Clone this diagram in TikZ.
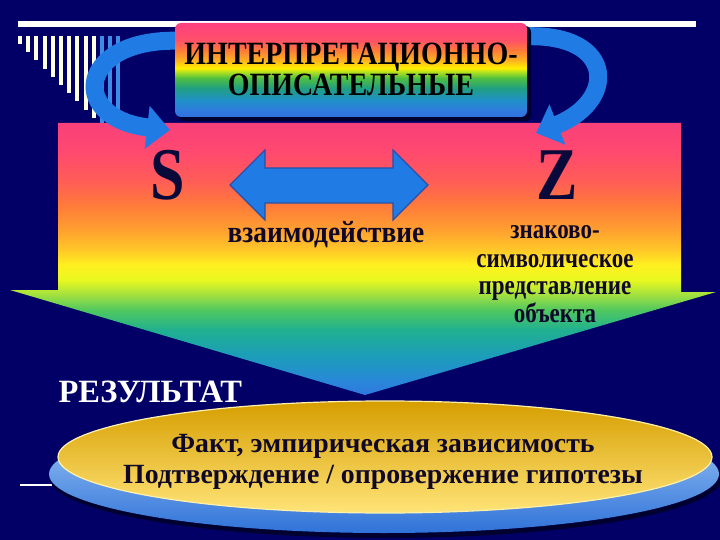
\documentclass[tikz,border=0pt]{standalone}
\usepackage{fontspec}
\setmainfont{Liberation Serif}
\usetikzlibrary{arrows.meta}
\definecolor{bg}{RGB}{2,0,102}
\definecolor{darkbg}{RGB}{0,0,48}
\definecolor{arrowblue}{RGB}{32,124,228}
\definecolor{arrowedge}{RGB}{40,80,170}
\definecolor{barwhite}{RGB}{255,255,225}
\definecolor{barblue}{RGB}{60,140,232}
\definecolor{txtdark}{RGB}{16,8,40}
\definecolor{letterdark}{RGB}{10,10,58}
\definecolor{elblueT}{RGB}{168,208,248}
\definecolor{elblueB}{RGB}{47,114,216}
\definecolor{elyelT}{RGB}{214,158,0}
\definecolor{elyelM}{RGB}{245,196,24}
\definecolor{elyelB}{RGB}{255,228,120}
\definecolor{elrim}{RGB}{255,240,170}
% big arrow rainbow
\definecolor{rA}{RGB}{48,120,224}
\definecolor{rB}{RGB}{40,136,216}
\definecolor{rC}{RGB}{28,158,184}
\definecolor{rD}{RGB}{32,176,144}
\definecolor{rE}{RGB}{80,200,96}
\definecolor{rF}{RGB}{160,224,64}
\definecolor{rG}{RGB}{232,248,32}
\definecolor{rH}{RGB}{255,240,32}
\definecolor{rI}{RGB}{255,200,40}
\definecolor{rJ}{RGB}{255,160,48}
\definecolor{rK}{RGB}{255,122,58}
\definecolor{rL}{RGB}{255,92,88}
\definecolor{rM}{RGB}{255,72,112}
\definecolor{rN}{RGB}{248,64,122}
\pgfdeclareverticalshading{bigrainbow}{100bp}{color(0bp)=(rA); color(25bp)=(rA); color(27.76bp)=(rB); color(32.35bp)=(rC); color(36.95bp)=(rD); color(40.63bp)=(rE); color(43.38bp)=(rF); color(46.14bp)=(rG); color(48.9bp)=(rH); color(51.65bp)=(rI); color(55.33bp)=(rJ); color(59.93bp)=(rK); color(64.52bp)=(rL); color(70.04bp)=(rM); color(75bp)=(rN); color(100bp)=(rN)}
% top box rainbow
\definecolor{bA}{RGB}{48,112,224}
\definecolor{bB}{RGB}{48,120,224}
\definecolor{bC}{RGB}{32,144,200}
\definecolor{bD}{RGB}{32,160,128}
\definecolor{bE}{RGB}{80,192,64}
\definecolor{bF}{RGB}{176,224,32}
\definecolor{bG}{RGB}{255,240,0}
\definecolor{bH}{RGB}{255,176,32}
\definecolor{bI}{RGB}{255,122,58}
\definecolor{bJ}{RGB}{255,80,104}
\definecolor{bK}{RGB}{255,64,128}
\pgfdeclareverticalshading{boxrainbow}{100bp}{color(0bp)=(bA); color(25bp)=(bA); color(27.66bp)=(bB); color(34.04bp)=(bC); color(40.43bp)=(bD); color(45.74bp)=(bE); color(48.9bp)=(bF); color(51.06bp)=(bG); color(55.32bp)=(bH); color(60.64bp)=(bI); color(65.96bp)=(bJ); color(75bp)=(bK); color(100bp)=(bK)}
\newcommand{\vstretch}[2]{\scalebox{1}[#1]{#2}}
\tikzset{
  stripe/.style={line width=4pt},
  curvearrow/.style={line width=18pt, arrowblue, -{Triangle[width=42pt,length=23pt]}},
  boxtext/.style={anchor=base, text=black, font=\fontsize{28}{30}\selectfont\bfseries},
  bigletter/.style={anchor=base, text=letterdark, font=\fontsize{62}{64}\selectfont\bfseries},
  midtext/.style={anchor=base, text=txtdark, font=\fontsize{27.4}{30}\selectfont\bfseries},
  sidetext/.style={anchor=base, text=txtdark, font=\fontsize{23}{25}\selectfont\bfseries},
  elltext/.style={anchor=base, text=txtdark, font=\fontsize{27.8}{30}\selectfont\bfseries},
  restext/.style={anchor=base west, font=\fontsize{32.5}{34}\selectfont\bfseries},
}
\begin{document}
\begin{tikzpicture}[x=1pt,y=-1pt]
\useasboundingbox (0,0) rectangle (720,540);
\fill[bg] (0,0) rectangle (720,540);
% top white line
\draw[white, line width=5.5pt] (18,24) -- (696,24);
% stripes
\foreach \k in {0,...,9} {
  \pgfmathsetmacro{\sx}{20+8.2*\k}
  \pgfmathsetmacro{\sy}{44+8.2*\k}
  \draw[stripe, barwhite] (\sx,36) -- (\sx,\sy);
}
\foreach \k in {10,11,12} {
  \pgfmathsetmacro{\sx}{20+8.2*\k}
  \pgfmathsetmacro{\sy}{44+8.2*\k}
  \draw[stripe, barblue] (\sx,36) -- (\sx,\sy);
}
% big arrow
\shade[shading=bigrainbow] (60,123) -- (681,123) -- (681,292) -- (716,292) -- (365,395) -- (10,290) -- (58,290) -- (58,123) -- cycle;
% curved arrows
\coordinate (la) at (185,41);
\coordinate (lb) at (170,130);
\coordinate (ra) at (515,37);
\coordinate (rb) at (536,133);
\draw[curvearrow] (la) .. controls (78,35) and (66,118) .. (lb);
\draw[curvearrow] (ra) .. controls (615,28) and (620,100) .. (rb);
% top box
\fill[darkbg, rounded corners=6pt] (178,26) rectangle (531,121);
\shade[shading=boxrainbow, rounded corners=6pt] (175,23) rectangle (527,117);
\node[boxtext] (b1) at (351,65) {\vstretch{1.16}{ИНТЕРПРЕТАЦИОННО-}};
\node[boxtext] (b2) at (351,96) {\vstretch{1.16}{ОПИСАТЕЛЬНЫЕ}};
% S and Z
\node[bigletter] (S) at (168,200) {\vstretch{1.2}{S}};
\node[bigletter] (Z) at (557,200) {\vstretch{1.2}{Z}};
% double arrow
\filldraw[fill=arrowblue, draw=arrowedge, line width=1.2pt, line join=miter]
  (230,185) -- (265,150) -- (265,168) -- (393,168) -- (393,150) -- (428,185)
  -- (393,220) -- (393,203) -- (265,203) -- (265,220) -- cycle;
\node[midtext] (m) at (326,242) {\vstretch{1.12}{взаимодействие}};
\node[sidetext] (z1) at (555,238) {\vstretch{1.2}{знаково-}};
\node[sidetext] (z2) at (555,267) {\vstretch{1.2}{символическое}};
\node[sidetext] (z3) at (555,294) {\vstretch{1.2}{представление}};
\node[sidetext] (z4) at (555,322) {\vstretch{1.2}{объекта}};
% result
\node[restext, text=white] (res) at (55,402) {РЕЗУЛЬТАТ};
% white small line
\draw[white, line width=1.5pt] (20,485) -- (52,485);
% ellipses
\fill[darkbg] (386,478) ellipse [x radius=336, y radius=60];
\shade[top color=elblueT, bottom color=elblueB] (384,474) ellipse [x radius=335, y radius=59];
\shade[top color=elyelT, middle color=elyelM, bottom color=elyelB] (385,457) ellipse [x radius=327, y radius=56];
\draw[elrim, line width=1.2pt] (385,457) ellipse [x radius=327, y radius=56];
\node[elltext] (e1) at (383,452) {Факт, эмпирическая зависимость};
\node[elltext] (e2) at (383,483) {Подтверждение / опровержение гипотезы};
\end{tikzpicture}
\end{document}
